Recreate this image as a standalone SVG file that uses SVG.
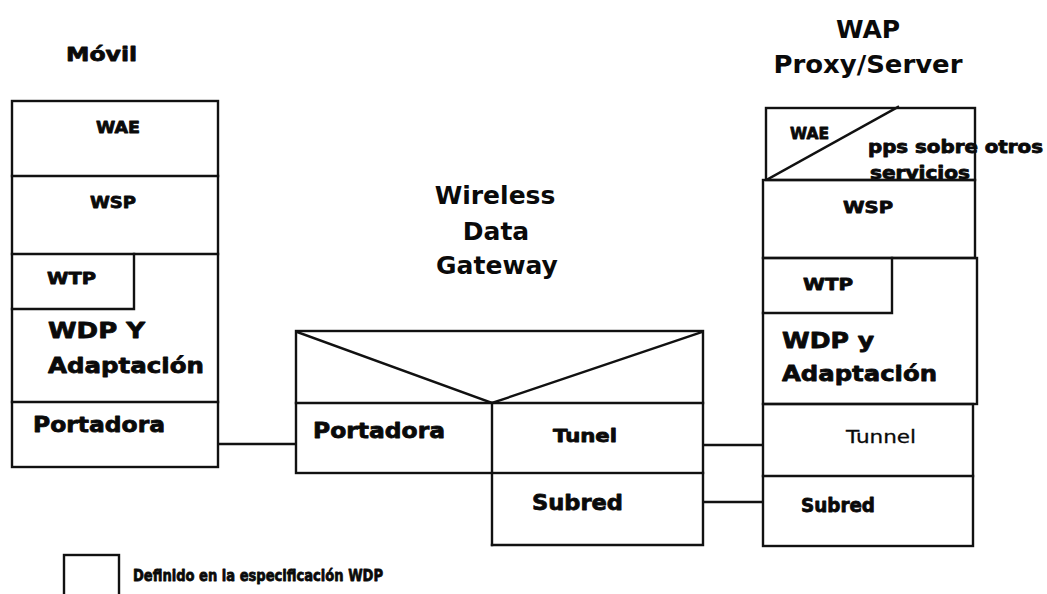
<svg xmlns="http://www.w3.org/2000/svg" width="1047" height="594" viewBox="0 0 1047 594">
  <style>
    .box { fill: none; stroke: #111111; stroke-width: 2.4; stroke-linecap: square; }
    .wire { fill: none; stroke: #111111; stroke-width: 2.4; }
    .title { font-family: "DejaVu Sans", Verdana, sans-serif; font-weight: bold; font-size: 25px; fill: #0a0a0a; text-anchor: middle; }
    .lbl { font-family: "DejaVu Sans", Verdana, sans-serif; font-weight: bold; fill: #0a0a0a; stroke: #0a0a0a; stroke-width: 0.8; stroke-linejoin: round; }
    .reg { font-family: "DejaVu Sans", Verdana, sans-serif; font-weight: normal; fill: #0a0a0a; stroke: #0a0a0a; stroke-width: 0.3; }
  </style>
  <rect x="0" y="0" width="1047" height="594" fill="#ffffff"/>

  <!-- Mobile terminal protocol stack -->
  <g id="movil">
    <text class="lbl" x="66" y="61" font-size="20" textLength="71" lengthAdjust="spacingAndGlyphs">Móvil</text>
    <rect class="box" x="12" y="101" width="206" height="366"/>
    <line class="box" x1="12" y1="176" x2="218" y2="176"/>
    <line class="box" x1="12" y1="254" x2="218" y2="254"/>
    <polyline class="box" points="134,254 134,309 12,309"/>
    <line class="box" x1="12" y1="402" x2="218" y2="402"/>
    <text class="lbl" x="96" y="133" font-size="16" textLength="44" lengthAdjust="spacingAndGlyphs">WAE</text>
    <text class="lbl" x="90" y="208" font-size="16" textLength="46" lengthAdjust="spacingAndGlyphs">WSP</text>
    <text class="lbl" x="47" y="284" font-size="16" textLength="49" lengthAdjust="spacingAndGlyphs">WTP</text>
    <text class="lbl" x="48" y="338" font-size="22" textLength="97" lengthAdjust="spacingAndGlyphs">WDP Y</text>
    <text class="lbl" x="48" y="373" font-size="22" textLength="156" lengthAdjust="spacingAndGlyphs">Adaptación</text>
    <text class="lbl" x="33" y="432" font-size="22" textLength="132" lengthAdjust="spacingAndGlyphs">Portadora</text>
  </g>

  <!-- Wireless data gateway -->
  <g id="gateway">
    <text class="title" x="495" y="204">Wireless</text>
    <text class="title" x="496" y="240">Data</text>
    <text class="title" x="497" y="274">Gateway</text>
    <rect class="box" x="296" y="331" width="407" height="142"/>
    <line class="box" x1="296" y1="403" x2="703" y2="403"/>
    <polyline class="box" points="297,332 492,403 702,332"/>
    <line class="box" x1="492" y1="403" x2="492" y2="545"/>
    <polyline class="box" points="492,545 703,545 703,473"/>
    <text class="lbl" x="313" y="438" font-size="22" textLength="132" lengthAdjust="spacingAndGlyphs">Portadora</text>
    <text class="lbl" x="553" y="442" font-size="18" textLength="64" lengthAdjust="spacingAndGlyphs">Tunel</text>
    <text class="lbl" x="532" y="510" font-size="22" textLength="91" lengthAdjust="spacingAndGlyphs">Subred</text>
  </g>

  <!-- WAP proxy / server protocol stack -->
  <g id="proxy">
    <text class="title" x="868" y="38">WAP</text>
    <text class="title" x="868" y="73" textLength="189" lengthAdjust="spacingAndGlyphs">Proxy/Server</text>
    <rect class="box" x="766" y="108" width="209" height="72"/>
    <line class="box" x1="768" y1="179" x2="898" y2="107"/>
    <text class="lbl" x="790" y="139" font-size="16" textLength="39" lengthAdjust="spacingAndGlyphs">WAE</text>
    <text class="lbl" x="868" y="153" font-size="17" textLength="175" lengthAdjust="spacingAndGlyphs">pps sobre otros</text>
    <text class="lbl" x="870" y="179" font-size="17" textLength="100" lengthAdjust="spacingAndGlyphs">servicios</text>
    <rect class="box" x="763" y="180" width="212" height="78"/>
    <text class="lbl" x="843" y="213" font-size="16" textLength="50" lengthAdjust="spacingAndGlyphs">WSP</text>
    <rect class="box" x="763" y="258" width="214" height="146"/>
    <polyline class="box" points="892,258 892,313 763,313"/>
    <text class="lbl" x="803" y="290" font-size="16" textLength="50" lengthAdjust="spacingAndGlyphs">WTP</text>
    <text class="lbl" x="782" y="348" font-size="22" textLength="92" lengthAdjust="spacingAndGlyphs">WDP y</text>
    <text class="lbl" x="782" y="381" font-size="22" textLength="155" lengthAdjust="spacingAndGlyphs">Adaptación</text>
    <rect class="box" x="763" y="404" width="210" height="142"/>
    <line class="box" x1="763" y1="476" x2="973" y2="476"/>
    <text class="reg" x="846" y="443" font-size="18" textLength="70" lengthAdjust="spacingAndGlyphs">Tunnel</text>
    <text class="lbl" x="801" y="512" font-size="19" textLength="74" lengthAdjust="spacingAndGlyphs">Subred</text>
  </g>

  <!-- Links between stacks -->
  <g id="connectors">
    <line class="wire" x1="218" y1="444" x2="296" y2="444"/>
    <line class="wire" x1="703" y1="445" x2="763" y2="445"/>
    <line class="wire" x1="703" y1="502" x2="763" y2="502"/>
  </g>

  <!-- Legend -->
  <g id="legend">
    <rect class="box" x="64" y="555" width="55" height="45"/>
    <text class="lbl" x="133" y="581" font-size="16" textLength="250" lengthAdjust="spacingAndGlyphs">Definido en la especificación WDP</text>
  </g>
</svg>
